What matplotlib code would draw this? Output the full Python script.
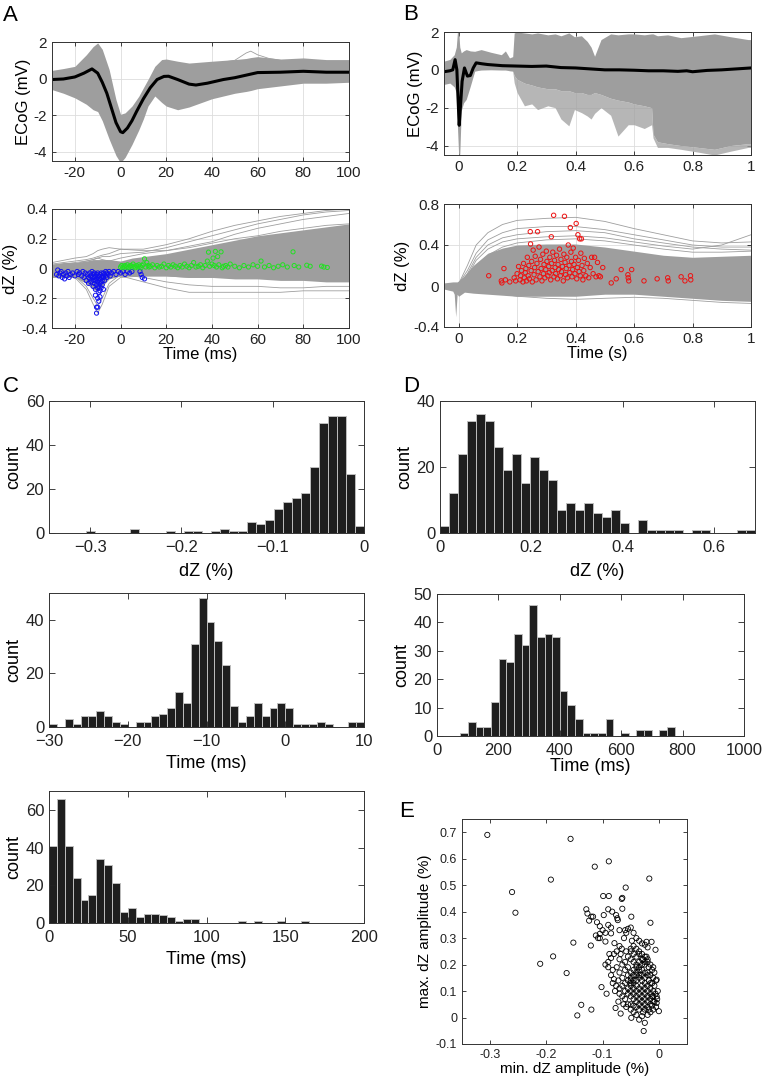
import numpy as np
import matplotlib
matplotlib.use("Agg")
import matplotlib.pyplot as plt
from matplotlib.ticker import FuncFormatter

plt.rcParams.update({
    "font.family": ["Liberation Sans", "DejaVu Sans"],
    "axes.unicode_minus": False,
    "axes.linewidth": 0.7,
    "axes.edgecolor": "#333333",
    "xtick.direction": "in",
    "ytick.direction": "in",
    "xtick.top": True,
    "ytick.right": True,
    "xtick.major.size": 3,
    "ytick.major.size": 3,
    "xtick.major.width": 0.6,
    "ytick.major.width": 0.6,
    "xtick.color": "#222222",
    "ytick.color": "#222222",
})

TRACE = "#9e9e9e"

# ---- panel A, ECoG (ms, mV): envelope of single trials + mean
a_t = [-30, -25, -20, -15, -12, -10, -8, -5, -2, 0, 2, 5, 8, 10, 12, 15, 18, 20, 25, 30, 40, 50, 55, 57, 60, 70, 80, 90, 100]
a_up = [0.45, 0.55, 0.67, 1.3, 1.75, 1.95, 1.6, 0.5, -1.15, -1.95, -1.87, -1.5, -0.96, -0.5, -0.05, 0.67, 1.04, 1.07, 0.95, 0.85, 0.95, 1.04, 1.1, 1.15, 1.2, 1.07, 1.13, 1.04, 1.04]
a_lo = [-0.6, -0.8, -1.05, -1.4, -1.7, -1.8, -2.3, -3.3, -4.2, -4.6, -4.3, -3.6, -2.8, -2.2, -1.5, -0.95, -1.3, -1.5, -1.7, -1.55, -1.1, -0.8, -0.7, -0.65, -0.55, -0.4, -0.25, -0.25, -0.2]
a_bump_t = [45, 50, 55, 57, 60, 65, 70]
a_bump_v = [0.9, 1.0, 1.4, 1.5, 1.3, 1.1, 1.0]
a_mean_t = [-30, -25, -20, -16, -12.5, -10, -8, -6, -4, -2, 0, 1, 3, 5, 7, 10, 13, 16, 19, 21, 25, 30, 33, 38, 45, 50, 60, 70, 80, 90, 100]
a_mean_v = [-0.05, -0.02, 0.09, 0.3, 0.53, 0.3, -0.2, -0.8, -1.6, -2.4, -2.9, -2.95, -2.7, -2.3, -1.8, -1.1, -0.5, -0.05, 0.12, 0.13, -0.05, -0.3, -0.35, -0.25, -0.05, 0.05, 0.33, 0.35, 0.4, 0.35, 0.35]

# ---- panel A, dZ (ms, %)
ab_t = [-30, -25, -20, -15, -12, -10, -8, -5, 0, 5, 10, 20, 30, 40, 50, 60, 70, 80, 90, 100]
ab_up = [0.03, 0.04, 0.04, 0.05, 0.06, 0.06, 0.06, 0.06, 0.05, 0.07, 0.08, 0.1, 0.13, 0.16, 0.19, 0.22, 0.24, 0.26, 0.28, 0.3]
ab_lo = [-0.06, -0.06, -0.06, -0.1, -0.14, -0.15, -0.12, -0.07, -0.05, -0.05, -0.05, -0.05, -0.06, -0.06, -0.07, -0.07, -0.08, -0.08, -0.09, -0.09]
ab_line_t = [-30, -20, -15, -12, -10, -8, -5, 0, 10, 20, 30, 40, 50, 60, 70, 80, 90, 100]
ab_lines = [
    [0.03, 0.05, 0.06, 0.07, 0.08, 0.09, 0.1, 0.13, 0.13, 0.16, 0.2, 0.25, 0.29, 0.32, 0.35, 0.37, 0.39, 0.4],
    [0.02, 0.04, 0.05, 0.06, 0.07, 0.08, 0.08, 0.1, 0.11, 0.14, 0.18, 0.22, 0.26, 0.3, 0.33, 0.36, 0.38, 0.39],
    [0.01, 0.03, 0.05, 0.06, 0.07, 0.06, 0.05, 0.07, 0.1, 0.12, 0.15, 0.18, 0.23, 0.27, 0.3, 0.33, 0.35, 0.37],
    [0.04, 0.07, 0.08, 0.1, 0.12, 0.13, 0.14, 0.13, 0.12, 0.12, 0.14, 0.17, 0.2, 0.22, 0.25, 0.27, 0.29, 0.3],
    [-0.04, -0.05, -0.12, -0.2, -0.25, -0.2, -0.1, -0.04, -0.03, -0.03, -0.04, -0.04, -0.04, -0.04, -0.04, -0.04, -0.04, -0.04],
    [-0.05, -0.06, -0.14, -0.24, -0.3, -0.24, -0.12, -0.06, -0.05, -0.05, -0.06, -0.06, -0.06, -0.06, -0.06, -0.06, -0.06, -0.06],
    [-0.03, -0.04, -0.06, -0.08, -0.09, -0.08, -0.06, -0.05, -0.09, -0.13, -0.16, -0.16, -0.16, -0.16, -0.16, -0.15, -0.15, -0.15],
    [-0.02, -0.03, -0.05, -0.06, -0.07, -0.06, -0.05, -0.04, -0.06, -0.09, -0.11, -0.12, -0.12, -0.12, -0.13, -0.13, -0.12, -0.12],
]
min_pts = [
    (-28, -0.04), (-27.5, -0.01), (-27, -0.05), (-26.5, -0.03), (-26, -0.02), (-25.5, -0.06), (-25, -0.04), (-24.5, -0.07),
    (-24, -0.03), (-23.5, -0.05), (-23, -0.02), (-22.5, -0.06), (-22, -0.04), (-21, -0.03), (-20, -0.05), (-19, -0.02),
    (-18.5, -0.04), (-18, -0.03), (-17, -0.05), (-16.5, -0.02), (-16, -0.06), (-15.5, -0.03), (-15, -0.08), (-14.5, -0.04),
    (-14, -0.06), (-14, -0.1), (-13.5, -0.03), (-13.5, -0.07), (-13, -0.05), (-13, -0.09), (-12.5, -0.02), (-12.5, -0.06),
    (-12, -0.04), (-12, -0.08), (-12, -0.12), (-11.5, -0.03), (-11.5, -0.06), (-11.5, -0.1), (-11, -0.05), (-11, -0.08),
    (-11, -0.14), (-11, -0.18), (-10.5, -0.04), (-10.5, -0.07), (-10.5, -0.11), (-10.5, -0.26), (-10.5, -0.3), (-10, -0.03),
    (-10, -0.06), (-10, -0.09), (-10, -0.13), (-10, -0.2), (-10, -0.26), (-9.5, -0.05), (-9.5, -0.08), (-9.5, -0.12),
    (-9.5, -0.16), (-9.5, -0.22), (-9, -0.04), (-9, -0.07), (-9, -0.1), (-9, -0.15), (-9, -0.19), (-8.5, -0.03),
    (-8.5, -0.06), (-8.5, -0.09), (-8.5, -0.13), (-8, -0.05), (-8, -0.08), (-8, -0.11), (-7.5, -0.03), (-7.5, -0.06),
    (-7.5, -0.14), (-7, -0.04), (-7, -0.08), (-6.5, -0.02), (-6.5, -0.05), (-6, -0.03), (-6, -0.06), (-5.5, -0.04),
    (-5, -0.02), (-4.5, -0.05), (-4, -0.03), (-3, -0.02), (-2, -0.04), (-1, -0.02), (0, -0.03), (1, -0.02), (2, -0.04),
    (3, -0.02), (4, -0.03), (5, -0.02), (8.5, -0.02), (9, -0.04), (9.5, -0.06), (10.5, -0.07),
]
max_pts = [
    (0, 0.01), (0.5, 0.02), (1, 0.005), (1.5, 0.015), (2, 0.02), (2.5, 0.01), (3, 0.025), (3.5, 0.005), (4, 0.015),
    (4.5, 0.02), (5, 0.01), (5.5, 0.03), (6, 0.015), (6.5, 0.005), (7, 0.02), (7.5, 0.01), (8, 0.025), (8.5, 0.015),
    (9, 0.005), (9.5, 0.02), (10, 0.03), (10.5, 0.065), (11, 0.01), (11.5, 0.04), (12, 0.02), (12.5, 0.01), (13, 0.015),
    (14, 0.025), (15, 0.005), (16, 0.02), (17, 0.01), (18, 0.015), (19, 0.03), (20, 0.005), (21, 0.02), (22, 0.01),
    (23, 0.025), (24, 0.015), (25, 0.005), (26, 0.02), (27, 0.01), (28, 0.03), (29, 0.015), (30, 0.005), (31, 0.02),
    (32, 0.04), (33, 0.01), (34, 0.015), (35, 0.025), (36, 0.005), (37, 0.02), (38, 0.05), (38.5, 0.11), (39, 0.015),
    (40, 0.03), (40.5, 0.07), (41, 0.02), (41.5, 0.115), (42, 0.01), (42.5, 0.08), (43, 0.025), (44, 0.112), (44.5, 0.005),
    (45, 0.015), (46, 0.02), (47, 0.01), (48, 0.03), (50, 0.015), (52, 0.005), (54, 0.02), (56, 0.01), (58, 0.025),
    (60, 0.015), (61.5, 0.05), (63, 0.01), (65, 0.02), (67, 0.005), (69, 0.015), (71, 0.025), (73, 0.01), (75.5, 0.112),
    (76, 0.02), (78, 0.01), (81.5, 0.022), (83, 0.015), (88, 0.016), (89, 0.01), (90.5, 0.007),
]

# ---- panel B, ECoG (s, mV)
bt_t = [-0.05, -0.03, -0.015, -0.008, -0.004, 0.0, 0.004, 0.009, 0.017, 0.026, 0.04, 0.055, 0.077, 0.11, 0.146, 0.16,
        0.174, 0.185, 0.19, 0.2, 0.225, 0.25, 0.27, 0.305, 0.33, 0.35, 0.377, 0.396, 0.42, 0.44, 0.453, 0.465, 0.487,
        0.52, 0.545, 0.58, 0.6, 0.635, 0.66, 0.665, 0.68, 0.715, 0.76, 0.82, 0.875, 0.93, 0.99, 1.0]
bt_up = [0.46, 0.55, 0.8, 1.2, 2.0, 2.0, 1.2, 0.9, 1.0, 1.07, 1.0, 0.98, 1.07, 0.93, 0.8, 1.0,
         0.63, 0.7, 1.95, 2.0, 1.95, 1.9, 1.95, 1.85, 1.9, 1.8, 1.95, 1.75, 1.8, 1.5, 1.2, 0.72, 1.6,
         1.9, 1.85, 1.9, 1.9, 1.85, 1.9, 1.9, 1.8, 1.85, 1.7, 1.8, 1.9, 1.75, 1.6, 1.6]
bt_core = [-0.77, -0.7, -0.9, -1.2, -3.0, -4.46, -4.46, -2.16, -1.74, -1.56, -0.86, -0.07, 0.0, 0.02, 0.0, 0.0,
           -0.05, -0.07, -0.3, -0.5, -0.7, -0.8, -0.9, -1.0, -1.0, -1.1, -1.1, -1.2, -1.2, -1.3, -1.3, -1.2, -1.3,
           -1.5, -1.6, -1.7, -1.8, -1.9, -2.0, -3.4, -3.8, -3.9, -4.0, -4.1, -4.2, -4.0, -3.9, -3.9]
bt_lo = [-0.77, -0.7, -0.9, -1.2, -3.0, -4.46, -4.46, -2.16, -1.74, -1.56, -0.86, -0.07, 0.0, 0.02, 0.0, 0.0,
         -0.05, -0.07, -0.68, -1.2, -1.9, -1.8, -2.1, -1.9, -2.0, -2.6, -2.96, -2.1, -2.26, -2.44, -2.6, -2.3, -2.0,
         -2.4, -3.5, -2.9, -2.9, -3.1, -2.9, -3.6, -4.1, -4.1, -4.2, -4.35, -4.5, -4.3, -4.1, -4.1]
b_mean_t = [-0.05, -0.03, -0.02, -0.012, -0.006, -0.002, 0.002, 0.006, 0.012, 0.02, 0.03, 0.04, 0.05, 0.06, 0.08, 0.1,
            0.15, 0.2, 0.25, 0.3, 0.35, 0.4, 0.45, 0.5, 0.55, 0.6, 0.65, 0.7, 0.75, 0.78, 0.8, 0.85, 0.9, 0.95, 1.0]
b_mean_v = [-0.1, -0.05, 0.0, 0.54, 0.0, -1.5, -2.93, -2.0, -0.6, 0.1, -0.33, -0.3, 0.1, 0.37, 0.32, 0.28,
            0.22, 0.2, 0.18, 0.2, 0.12, 0.1, 0.05, 0.0, 0.0, -0.02, -0.05, -0.05, -0.08, -0.05, -0.1, -0.03, 0.0, 0.05, 0.1]

# ---- panel B, dZ (s, %)
bb_t = [-0.05, -0.02, -0.015, -0.01, -0.005, 0, 0.02, 0.05, 0.1, 0.15, 0.2, 0.3, 0.4, 0.5, 0.6, 0.7, 0.8, 0.9, 1.0]
bb_up = [0.03, 0.04, 0.04, 0.04, 0.04, 0.05, 0.1, 0.2, 0.32, 0.37, 0.4, 0.41, 0.41, 0.38, 0.34, 0.3, 0.28, 0.29, 0.3]
bb_lo = [-0.03, -0.05, -0.08, -0.3, -0.08, -0.1, -0.06, -0.07, -0.08, -0.09, -0.1, -0.1, -0.1, -0.08, -0.08, -0.1, -0.12, -0.14, -0.15]
bb_line_t = [-0.05, 0, 0.03, 0.06, 0.1, 0.15, 0.2, 0.3, 0.4, 0.5, 0.6, 0.7, 0.8, 0.9, 1.0]
bb_lines = [
    [0, 0.02, 0.2, 0.4, 0.52, 0.6, 0.64, 0.66, 0.67, 0.63, 0.56, 0.5, 0.44, 0.42, 0.43],
    [0, 0.02, 0.15, 0.32, 0.45, 0.52, 0.56, 0.58, 0.58, 0.55, 0.5, 0.45, 0.4, 0.38, 0.38],
    [0, 0.01, 0.12, 0.28, 0.4, 0.47, 0.5, 0.53, 0.54, 0.52, 0.46, 0.42, 0.38, 0.36, 0.35],
    [0, 0.01, 0.1, 0.25, 0.36, 0.43, 0.46, 0.48, 0.49, 0.47, 0.43, 0.39, 0.36, 0.4, 0.5],
    [0, 0.01, 0.08, 0.2, 0.3, 0.38, 0.42, 0.45, 0.46, 0.44, 0.4, 0.36, 0.33, 0.33, 0.34],
    [0, -0.02, -0.05, -0.06, -0.07, -0.08, -0.1, -0.12, -0.13, -0.12, -0.11, -0.12, -0.14, -0.16, -0.17],
]
peak_pts = [
    (0.103, 0.10), (0.146, 0.05), (0.148, 0.03), (0.155, 0.17), (0.16, 0.06), (0.175, 0.04), (0.19, 0.08), (0.195, 0.05),
    (0.2, 0.12), (0.205, 0.19), (0.21, 0.06), (0.212, 0.1), (0.215, 0.15), (0.22, 0.04), (0.222, 0.22), (0.225, 0.08),
    (0.228, 0.13), (0.23, 0.17), (0.232, 0.05), (0.235, 0.28), (0.238, 0.1), (0.24, 0.2), (0.242, 0.07), (0.245, 0.53),
    (0.246, 0.41), (0.248, 0.15), (0.25, 0.24), (0.252, 0.04), (0.255, 0.35), (0.258, 0.11), (0.26, 0.18), (0.262, 0.29),
    (0.265, 0.06), (0.268, 0.22), (0.27, 0.53), (0.272, 0.14), (0.275, 0.38), (0.278, 0.09), (0.28, 0.26), (0.282, 0.17),
    (0.285, 0.05), (0.288, 0.31), (0.29, 0.12), (0.292, 0.21), (0.295, 0.08), (0.298, 0.16), (0.3, 0.34), (0.302, 0.24),
    (0.305, 0.1), (0.308, 0.19), (0.31, 0.13), (0.312, 0.28), (0.315, 0.06), (0.317, 0.48), (0.318, 0.22), (0.32, 0.15),
    (0.322, 0.33), (0.325, 0.69), (0.326, 0.09), (0.328, 0.25), (0.33, 0.18), (0.332, 0.12), (0.335, 0.3), (0.338, 0.07),
    (0.34, 0.21), (0.342, 0.16), (0.345, 0.36), (0.348, 0.1), (0.35, 0.26), (0.352, 0.14), (0.355, 0.19), (0.358, 0.05),
    (0.36, 0.31), (0.362, 0.68), (0.364, 0.23), (0.366, 0.11), (0.368, 0.17), (0.37, 0.28), (0.372, 0.08), (0.375, 0.4),
    (0.378, 0.2), (0.38, 0.13), (0.382, 0.57), (0.384, 0.33), (0.386, 0.24), (0.388, 0.09), (0.39, 0.16), (0.392, 0.37),
    (0.395, 0.21), (0.398, 0.12), (0.4, 0.28), (0.402, 0.61), (0.404, 0.07), (0.406, 0.18), (0.408, 0.5), (0.41, 0.25),
    (0.412, 0.14), (0.414, 0.46), (0.416, 0.1), (0.418, 0.32), (0.42, 0.46), (0.422, 0.2), (0.425, 0.06), (0.428, 0.15),
    (0.43, 0.27), (0.435, 0.1), (0.44, 0.22), (0.445, 0.08), (0.45, 0.18), (0.455, 0.28), (0.46, 0.12), (0.465, 0.28),
    (0.47, 0.09), (0.475, 0.23), (0.48, 0.1), (0.485, 0.09), (0.493, 0.18), (0.522, 0.03), (0.539, 0.07), (0.556, 0.16),
    (0.579, 0.11), (0.58, 0.08), (0.582, 0.05), (0.592, 0.16), (0.634, 0.05), (0.679, 0.07), (0.715, 0.08), (0.717, 0.05),
    (0.761, 0.09), (0.774, 0.05), (0.793, 0.1), (0.794, 0.06),
]

# ---- histograms: (lower edge, upper edge, counts)
c1_range = (-0.305, 0.0)
c1_counts = [1, 0, 0, 0, 0, 2, 0, 0, 0, 1, 0, 1, 1, 0, 1, 2, 1, 1, 5, 4, 6, 11, 14, 16, 18, 30, 50, 53, 53, 27, 3]
c2_range = (-30, 10)
c2_counts = [1, 0, 3, 1, 4, 4, 6, 4, 2, 1, 0, 2, 2, 4, 5, 7, 13, 9, 31, 48, 39, 32, 23, 8, 2, 4, 9, 4, 7, 9, 7, 1, 1, 1, 2, 1, 0, 0, 2, 2]
c3_range = (0, 200)
c3_counts = [41, 66, 41, 24, 12, 15, 34, 31, 21, 6, 8, 3, 5, 5, 4, 3, 1, 2, 2, 0, 0, 0, 0, 0, 1, 0, 1, 0, 0, 1, 0, 0, 1, 0, 0, 0, 0, 0, 0, 0]
d1_range = (0.001, 0.689)
d1_counts = [2, 12, 24, 34, 36, 34, 26, 19, 24, 15, 23, 19, 16, 7, 9, 7, 9, 6, 5, 7, 3, 0, 4, 1, 1, 1, 1, 0, 1, 1, 0, 0, 0, 1, 1]
d2_range = (76, 774)
d2_counts = [1, 5, 3, 3, 12, 27, 26, 36, 32, 46, 35, 36, 35, 16, 11, 6, 1, 1, 1, 6, 0, 1, 0, 2, 2, 0, 2, 3]

# ---- panel E: (min dZ, max dZ) per trial
e_pts = [
    (-0.305, 0.69), (-0.157, 0.675), (-0.089, 0.59), (-0.114, 0.57), (-0.261, 0.474), (-0.192, 0.521), (-0.255, 0.396),
    (-0.017, 0.525), (-0.059, 0.491), (-0.099, 0.459), (-0.089, 0.459), (-0.065, 0.452), (-0.066, 0.448), (-0.065, 0.411),
    (-0.129, 0.409), (-0.09, 0.409), (-0.083, 0.40), (-0.127, 0.393), (-0.12, 0.381), (-0.117, 0.381), (-0.076, 0.387),
    (-0.074, 0.375), (-0.073, 0.368), (-0.124, 0.366), (-0.098, 0.387), (-0.049, 0.381), (-0.015, 0.358), (-0.152, 0.283),
    (-0.121, 0.272), (-0.105, 0.3), (-0.105, 0.316), (-0.095, 0.287), (-0.085, 0.318), (-0.079, 0.281), (-0.022, 0.286),
    (-0.013, 0.286), (-0.006, 0.256), (-0.188, 0.231), (-0.211, 0.203), (-0.164, 0.168), (-0.102, 0.115), (-0.093, 0.09),
    (-0.138, 0.048), (-0.145, 0.008), (-0.12, 0.03), (-0.077, 0.036), (-0.068, 0.015), (-0.049, -0.001), (-0.035, -0.008),
    (-0.025, -0.02), (-0.027, -0.051), (-0.004, 0.055), (0.0, 0.024), (-0.004, 0.143),
    (-0.11, 0.36), (-0.105, 0.345), (-0.1, 0.33), (-0.095, 0.32), (-0.112, 0.31), (-0.108, 0.30), (-0.09, 0.35),
    (-0.085, 0.34), (-0.07, 0.33), (-0.06, 0.33), (-0.055, 0.335), (-0.05, 0.34), (-0.045, 0.32), (-0.058, 0.32),
    (-0.062, 0.30), (-0.048, 0.29), (-0.04, 0.30), (-0.035, 0.29), (-0.03, 0.28), (-0.025, 0.275), (-0.02, 0.265),
    (-0.07, 0.27), (-0.066, 0.26), (-0.058, 0.25), (-0.075, 0.25), (-0.08, 0.24), (-0.088, 0.24), (-0.085, 0.225),
    (-0.09, 0.21), (-0.095, 0.2), (-0.09, 0.19), (-0.082, 0.18), (-0.085, 0.16), (-0.08, 0.145), (-0.082, 0.13),
    (-0.076, 0.12), (-0.07, 0.11), (-0.078, 0.1), (-0.07, 0.09), (-0.065, 0.08), (-0.072, 0.06), (-0.06, 0.07),
    (-0.055, 0.05), (-0.058, 0.04), (-0.05, 0.03), (-0.045, 0.02), (-0.04, 0.01), (-0.03, 0.005), (-0.02, 0.01),
    (-0.015, 0.02), (-0.01, 0.03), (-0.005, 0.04), (-0.008, 0.06), (-0.003, 0.07), (-0.012, 0.08), (-0.006, 0.09),
    (-0.01, 0.1), (-0.015, 0.11), (-0.008, 0.12), (-0.012, 0.13), (-0.018, 0.14), (-0.01, 0.15), (-0.015, 0.16),
    (-0.02, 0.17), (-0.012, 0.18), (-0.018, 0.19), (-0.025, 0.2), (-0.02, 0.21), (-0.028, 0.22), (-0.022, 0.23),
    (-0.03, 0.24), (-0.035, 0.25), (-0.04, 0.26), (-0.045, 0.27), (-0.05, 0.26), (-0.055, 0.23), (-0.05, 0.22),
    (-0.045, 0.21), (-0.04, 0.2), (-0.035, 0.19), (-0.03, 0.18), (-0.025, 0.17), (-0.03, 0.16), (-0.035, 0.15),
    (-0.04, 0.14), (-0.045, 0.13), (-0.05, 0.12), (-0.055, 0.11), (-0.05, 0.1), (-0.045, 0.09), (-0.04, 0.08),
    (-0.035, 0.07), (-0.03, 0.06), (-0.025, 0.05), (-0.02, 0.04), (-0.025, 0.03), (-0.03, 0.04), (-0.035, 0.05),
    (-0.04, 0.06), (-0.045, 0.07), (-0.05, 0.08), (-0.055, 0.09), (-0.06, 0.1), (-0.065, 0.12), (-0.06, 0.13),
    (-0.055, 0.14), (-0.05, 0.15), (-0.045, 0.16), (-0.04, 0.17), (-0.035, 0.18), (-0.03, 0.2), (-0.025, 0.21),
    (-0.02, 0.22), (-0.015, 0.2), (-0.01, 0.19), (-0.008, 0.17), (-0.005, 0.14), (-0.002, 0.1), (-0.004, 0.08),
    (-0.01, 0.06), (-0.015, 0.05), (-0.02, 0.06), (-0.025, 0.07), (-0.03, 0.08), (-0.035, 0.09), (-0.04, 0.1),
    (-0.045, 0.11), (-0.05, 0.13), (-0.055, 0.16), (-0.06, 0.18), (-0.065, 0.2), (-0.07, 0.22), (-0.06, 0.21),
    (-0.055, 0.19), (-0.05, 0.17), (-0.045, 0.18), (-0.04, 0.19), (-0.035, 0.21), (-0.03, 0.22), (-0.025, 0.23),
    (-0.04, 0.23), (-0.045, 0.24), (-0.05, 0.25), (-0.035, 0.24), (-0.02, 0.12), (-0.025, 0.13), (-0.03, 0.12),
    (-0.035, 0.11), (-0.04, 0.12), (-0.045, 0.14), (-0.05, 0.14), (-0.03, 0.1), (-0.025, 0.09), (-0.02, 0.08),
    (-0.015, 0.07), (-0.01, 0.08), (-0.02, 0.1), (-0.015, 0.09), (-0.03, 0.14), (-0.025, 0.15), (-0.02, 0.16),
    (-0.035, 0.16), (-0.04, 0.16), (-0.025, 0.11), (-0.015, 0.13), (-0.065, 0.15), (-0.07, 0.17), (-0.075, 0.19),
    (-0.068, 0.24), (-0.072, 0.14), (-0.063, 0.05), (-0.05, 0.05), (-0.04, 0.04), (-0.035, 0.03), (-0.028, 0.02),
    (-0.045, 0.045), (-0.018, 0.03), (-0.012, 0.045),
]


def g_fmt(minus="-"):
    def f(v, pos):
        if abs(v) < 1e-9:
            v = 0.0
        return ("%g" % v).replace("-", minus)
    return FuncFormatter(f)


def trace_axes(ax):
    ax.grid(True, color="#dddddd", linewidth=0.6)
    ax.set_axisbelow(True)
    ax.tick_params(labelsize=11, length=3)
    ax.xaxis.set_major_formatter(g_fmt())
    ax.yaxis.set_major_formatter(g_fmt())


def hist_axes(ax, rng, counts, xlim, xticks, ylim, yticks, xlabel, minus="\u2212", tick_fs=12, label_fs=13):
    edges = np.linspace(rng[0], rng[1], len(counts) + 1)
    ax.bar(edges[:-1], counts, width=np.diff(edges), align="edge",
           color="#1e1e1e", edgecolor="#bdbdbd", linewidth=0.7)
    ax.set_xlim(*xlim)
    ax.set_ylim(*ylim)
    ax.set_xticks(xticks)
    ax.set_yticks(yticks)
    ax.xaxis.set_major_formatter(g_fmt(minus))
    ax.yaxis.set_major_formatter(g_fmt(minus))
    ax.tick_params(labelsize=tick_fs, length=4)
    ax.tick_params(axis="x", pad=5)
    ax.set_ylabel("count", fontsize=label_fs, labelpad=2)
    ax.set_xlabel(xlabel, fontsize=label_fs)


fig = plt.figure(figsize=(7.62, 10.8), dpi=100)
W, H = 762.0, 1080.0


def add_ax(x0, y0, x1, y1):
    return fig.add_axes([x0 / W, 1 - y1 / H, (x1 - x0) / W, (y1 - y0) / H])


# A top
ax = add_ax(52, 42, 349, 161)
ax.fill_between(a_t, a_lo, a_up, color=TRACE, linewidth=0)
ax.plot(a_bump_t, a_bump_v, color=TRACE, lw=0.6)
ax.plot(a_mean_t, a_mean_v, color="black", lw=2.2)
ax.set_xlim(-30, 100)
ax.set_ylim(-4.5, 2)
ax.set_xticks([-20, 0, 20, 40, 60, 80, 100])
ax.set_yticks([-4, -2, 0, 2])
trace_axes(ax)
ax.set_ylabel("ECoG (mV)", fontsize=12, labelpad=2)

# A bottom
ax = add_ax(52, 209, 349, 328)
ax.fill_between(ab_t, ab_lo, ab_up, color=TRACE, linewidth=0)
for v in ab_lines:
    ax.plot(ab_line_t, v, color=TRACE, lw=0.6)
mx, my = np.array(min_pts).T
ax.scatter(mx, my, s=9, facecolors="none", edgecolors="#1010ee", linewidths=0.7, zorder=3)
px, py = np.array(max_pts).T
ax.scatter(px, py, s=9, facecolors="none", edgecolors="#22e022", linewidths=0.7, zorder=3)
ax.set_xlim(-30, 100)
ax.set_ylim(-0.4, 0.4)
ax.set_xticks([-20, 0, 20, 40, 60, 80, 100])
ax.set_yticks([-0.4, -0.2, 0, 0.2, 0.4])
trace_axes(ax)
ax.set_ylabel("dZ (%)", fontsize=12, labelpad=2)
ax.set_xlabel("Time (ms)", fontsize=12, labelpad=0)

# B top
ax = add_ax(444, 32, 751, 155)
ax.fill_between(bt_t, bt_core, bt_up, color=TRACE, linewidth=0)
ax.fill_between(bt_t, bt_lo, bt_core, color=TRACE, alpha=0.75, linewidth=0)
ax.plot(b_mean_t, b_mean_v, color="black", lw=2.2)
ax.set_xlim(-0.05, 1)
ax.set_ylim(-4.5, 2)
ax.set_xticks([0, 0.2, 0.4, 0.6, 0.8, 1])
ax.set_yticks([-4, -2, 0, 2])
trace_axes(ax)
ax.set_ylabel("ECoG (mV)", fontsize=12, labelpad=2)

# B bottom
ax = add_ax(444, 204, 751, 327)
ax.fill_between(bb_t, bb_lo, bb_up, color=TRACE, linewidth=0)
for v in bb_lines:
    ax.plot(bb_line_t, v, color=TRACE, lw=0.6)
rx, ry = np.array(peak_pts).T
ax.scatter(rx, ry, s=10, facecolors="none", edgecolors="#ee1111", linewidths=0.7, zorder=3)
ax.set_xlim(-0.05, 1)
ax.set_ylim(-0.4, 0.8)
ax.set_xticks([0, 0.2, 0.4, 0.6, 0.8, 1])
ax.set_yticks([-0.4, 0, 0.4, 0.8])
trace_axes(ax)
ax.set_ylabel("dZ (%)", fontsize=12, labelpad=2)
ax.set_xlabel("Time (s)", fontsize=12, labelpad=0)

# C histograms
ax = add_ax(49, 401, 364, 533)
hist_axes(ax, c1_range, c1_counts, (-0.345, 0), [-0.3, -0.2, -0.1, 0], (0, 60), [0, 20, 40, 60], "dZ (%)")
ax.xaxis.labelpad = 6
ax = add_ax(49, 593, 364, 727)
hist_axes(ax, c2_range, c2_counts, (-30, 10), [-30, -20, -10, 0, 10], (0, 50), [0, 20, 40], "Time (ms)")
ax = add_ax(49, 791, 364, 923)
hist_axes(ax, c3_range, c3_counts, (0, 200), [0, 50, 100, 150, 200], (0, 70), [0, 20, 40, 60], "Time (ms)")

# D histograms
ax = add_ax(440, 401, 755, 533)
hist_axes(ax, d1_range, d1_counts, (0, 0.689), [0, 0.2, 0.4, 0.6], (0, 40), [0, 20, 40], "dZ (%)")
ax.xaxis.labelpad = 6
ax = add_ax(437, 594, 744, 736)
hist_axes(ax, d2_range, d2_counts, (0, 1000), [0, 200, 400, 600, 800, 1000], (0, 50), [0, 10, 20, 30, 40, 50],
          "Time (ms)")
ax.xaxis.labelpad = 0

# E scatter
ax = add_ax(462, 819, 687, 1044)
ex, ey = np.array(e_pts).T
ax.scatter(ex, ey, s=14, facecolors="none", edgecolors="black", linewidths=0.6)
ax.set_xlim(-0.35, 0.05)
ax.set_ylim(-0.1, 0.75)
ax.set_xticks([-0.3, -0.2, -0.1, 0])
ax.set_yticks([-0.1, 0, 0.1, 0.2, 0.3, 0.4, 0.5, 0.6, 0.7])
ax.xaxis.set_major_formatter(g_fmt())
ax.yaxis.set_major_formatter(g_fmt())
ax.tick_params(labelsize=9, length=3)
ax.set_xlabel("min. dZ amplitude (%)", fontsize=11, labelpad=1)
ax.set_ylabel("max. dZ amplitude (%)", fontsize=11, labelpad=3)

# panel letters
for letter, x, y in [("A", 3, 5), ("B", 403, 4), ("C", 3, 376), ("D", 403, 376), ("E", 399, 801)]:
    fig.text(x / W, 1 - y / H, letter, fontsize=16, va="top", ha="left")

fig.savefig("out.png", dpi=100)
